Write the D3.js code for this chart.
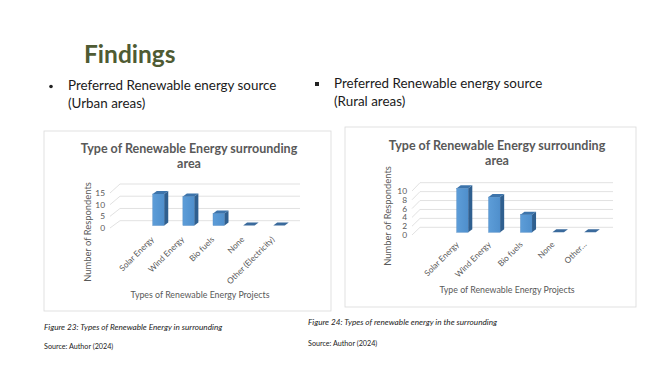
<!DOCTYPE html>
<html>
<head>
<meta charset="utf-8">
<script src="https://cdn.jsdelivr.net/npm/d3@7"></script>
<style>
  html, body { margin: 0; padding: 0; background: #ffffff; }
  svg { display: block; }
</style>
</head>
<body>
<svg id="slide" width="650" height="366"></svg>
<script>
// ---------------- DATA ----------------
const categories = ["Solar Energy", "Wind Energy", "Bio fuels", "None", "Other (Electricity)"];
const urbanLabels = ["Solar Energy", "Wind Energy", "Bio fuels", "None", "Other (Electricity)"];
const ruralLabels = ["Solar Energy", "Wind Energy", "Bio fuels", "None", "Other…"];
const urbanValues = [13, 12, 5, 0, 0];
const ruralValues = [10, 8, 4, 0, 0];
const urbanTicks = [0, 5, 10, 15];
const ruralTicks = [0, 2, 4, 6, 8, 10];
const chartTitleLines = ["Type of Renewable Energy surrounding", "area"];
const urbanXTitle = "Types of Renewable Energy Projects";
const ruralXTitle = "Type of Renewable Energy Projects";
const yTitle = "Number of Respondents";

// ---------------- PAGE ----------------
const FONT = "Lato, 'Open Sans', sans-serif";
const svg = d3.select("#slide");

svg.append("text").attr("x", 84).attr("y", 63)
  .attr("font-family", FONT).attr("font-weight", 700).attr("font-size", 24.5)
  .attr("fill", "#4f5b33").text("Findings");

function bulletBlock(x, y, bullet, lines) {
  const g = svg.append("g");
  if (bullet === "dot") {
    g.append("circle").attr("cx", x).attr("cy", y - 3.5).attr("r", 1.8).attr("fill", "#222");
  } else {
    g.append("rect").attr("x", x - 2).attr("y", y - 6).attr("width", 4).attr("height", 4).attr("fill", "#222");
  }
  lines.forEach((t, i) => {
    g.append("text").attr("x", x + 17).attr("y", y + i * 18)
      .attr("font-family", FONT).attr("font-size", 13.4).attr("fill", "#1a1a1a").text(t);
  });
}
bulletBlock(51, 90, "dot", ["Preferred Renewable energy source", "(Urban areas)"]);
bulletBlock(317, 88, "square", ["Preferred Renewable energy source", "(Rural areas)"]);

function caption(x, y, t, italic) {
  svg.append("text").attr("x", x).attr("y", y)
    .attr("font-family", FONT).attr("font-size", italic ? 8.2 : 7.2)
    .attr("font-style", italic ? "italic" : "normal")
    .attr("fill", "#222").text(t);
}
caption(44, 330, "Figure 23: Types of Renewable Energy in surrounding", true);
caption(44, 348.5, "Source: Author (2024)", false);
caption(308, 325, "Figure 24: Types of renewable energy in the surrounding", true);
caption(308, 345.5, "Source: Author (2024)", false);

// ---------------- CHART ----------------
function drawChart(cfg) {
  const g = svg.append("g");
  g.append("rect").attr("x", cfg.box[0]).attr("y", cfg.box[1])
    .attr("width", cfg.box[2]).attr("height", cfg.box[3])
    .attr("fill", "#fff").attr("stroke", "#d9d9d9").attr("stroke-width", 0.8);

  chartTitleLines.forEach((t, i) => {
    g.append("text").attr("x", cfg.titleX).attr("y", cfg.titleY + i * 15.5)
      .attr("text-anchor", "middle").attr("dominant-baseline", "central")
      .attr("font-family", FONT).attr("font-weight", 700).attr("font-size", 12.5)
      .attr("fill", "#595959").text(t);
  });

  const maxV = d3.max(cfg.ticks);
  const yFront = d3.scaleLinear().domain([0, maxV]).range(cfg.frontRange);
  const yBack = d3.scaleLinear().domain([0, maxV]).range(cfg.backRange);
  const yBar = d3.scaleLinear().domain([0, maxV]).range(cfg.barRange);
  const x = d3.scalePoint().domain(categories).range(cfg.xRange);

  // wall gridlines + floor diagonals
  cfg.ticks.forEach(v => {
    g.append("line").attr("x1", cfg.wallX[0]).attr("x2", cfg.wallX[1])
      .attr("y1", yBack(v)).attr("y2", yBack(v))
      .attr("stroke", "#d9d9d9").attr("stroke-width", 0.8);
    g.append("line").attr("x1", cfg.wallX[0] - cfg.diag).attr("y1", yFront(v))
      .attr("x2", cfg.wallX[0]).attr("y2", yBack(v))
      .attr("stroke", "#d9d9d9").attr("stroke-width", 0.8);
  });

  // tick labels
  g.selectAll(".tk").data(cfg.ticks).join("text")
    .attr("x", cfg.tickX).attr("y", d => yFront(d))
    .attr("text-anchor", "end").attr("dominant-baseline", "central")
    .attr("font-family", FONT).attr("font-size", 8.4).attr("fill", "#595959")
    .text(d => d);

  // bars (pseudo 3D)
  const bw = cfg.barW, dx = 4, dy = -3;
  const base = yBar(0);
  const data = categories.map((c, i) => ({ c, v: cfg.values[i] }));
  const bars = g.selectAll(".bar").data(data).join("g");
  bars.each(function (d) {
    const s = d3.select(this);
    const x0 = x(d.c) - bw / 2, x1 = x0 + bw, yt = yBar(d.v);
    if (d.v > 0) {
      s.append("rect").attr("x", x0).attr("y", yt).attr("width", bw).attr("height", base - yt)
        .attr("fill", "url(#barGrad)").attr("stroke", "#4a86c0").attr("stroke-width", 0.4);
      s.append("path").attr("d", `M${x1},${yt}L${x1 + dx},${yt + dy}L${x1 + dx},${base + dy}L${x1},${base}Z`)
        .attr("fill", "#2f5f8f");
    }
    s.append("path").attr("d", `M${x0},${yt}L${x1},${yt}L${x1 + dx},${yt + dy}L${x0 + dx},${yt + dy}Z`)
      .attr("fill", d.v > 0 ? "#3d74ab" : "#3a6a9c");
  });

  // category labels
  g.selectAll(".cat").data(data).join("text")
    .attr("transform", (d) => `translate(${x(d.c) - cfg.labOff},${cfg.labY}) rotate(-45)`)
    .attr("text-anchor", "end")
    .attr("font-family", FONT).attr("font-size", 8.2).attr("fill", "#595959")
    .text((d, i) => cfg.labels[i]);

  // axis titles
  g.append("text").attr("transform", `translate(${cfg.yTitle[0]},${cfg.yTitle[1]}) rotate(-90)`)
    .attr("text-anchor", "middle").attr("dominant-baseline", "central")
    .attr("font-family", FONT).attr("font-size", 9.4).attr("fill", "#595959").text(yTitle);
  g.append("text").attr("x", cfg.xTitle[0]).attr("y", cfg.xTitle[1])
    .attr("text-anchor", "middle").attr("dominant-baseline", "central")
    .attr("font-family", FONT).attr("font-size", 8.8).attr("fill", "#595959").text(cfg.xTitleText);
}

const defs = svg.append("defs");
const grad = defs.append("linearGradient").attr("id", "barGrad").attr("x1", 0).attr("x2", 1).attr("y1", 0).attr("y2", 0);
grad.append("stop").attr("offset", "0%").attr("stop-color", "#5d9dd8");
grad.append("stop").attr("offset", "100%").attr("stop-color", "#4f8fcc");

drawChart({
  box: [44, 131, 287, 180],
  titleX: 189, titleY: 148,
  ticks: urbanTicks, values: urbanValues, labels: urbanLabels,
  frontRange: [228, 193], backRange: [220.7, 184], barRange: [225.5, 189.2],
  xRange: [158.5, 279], wallX: [120, 300], diag: 10, tickX: 105,
  barW: 11.5, labOff: 4, labY: 240,
  yTitle: [87, 232], xTitle: [200, 294], xTitleText: urbanXTitle
});

drawChart({
  box: [345, 127, 291, 180],
  titleX: 497, titleY: 145,
  ticks: ruralTicks, values: ruralValues, labels: ruralLabels,
  frontRange: [235, 191], backRange: [227.3, 182.7], barRange: [232.3, 188.3],
  xRange: [462.5, 590], wallX: [420, 613], diag: 8, tickX: 407,
  barW: 11.6, labOff: 3, labY: 245,
  yTitle: [387, 216], xTitle: [507, 289], xTitleText: ruralXTitle
});
</script>
</body>
</html>
